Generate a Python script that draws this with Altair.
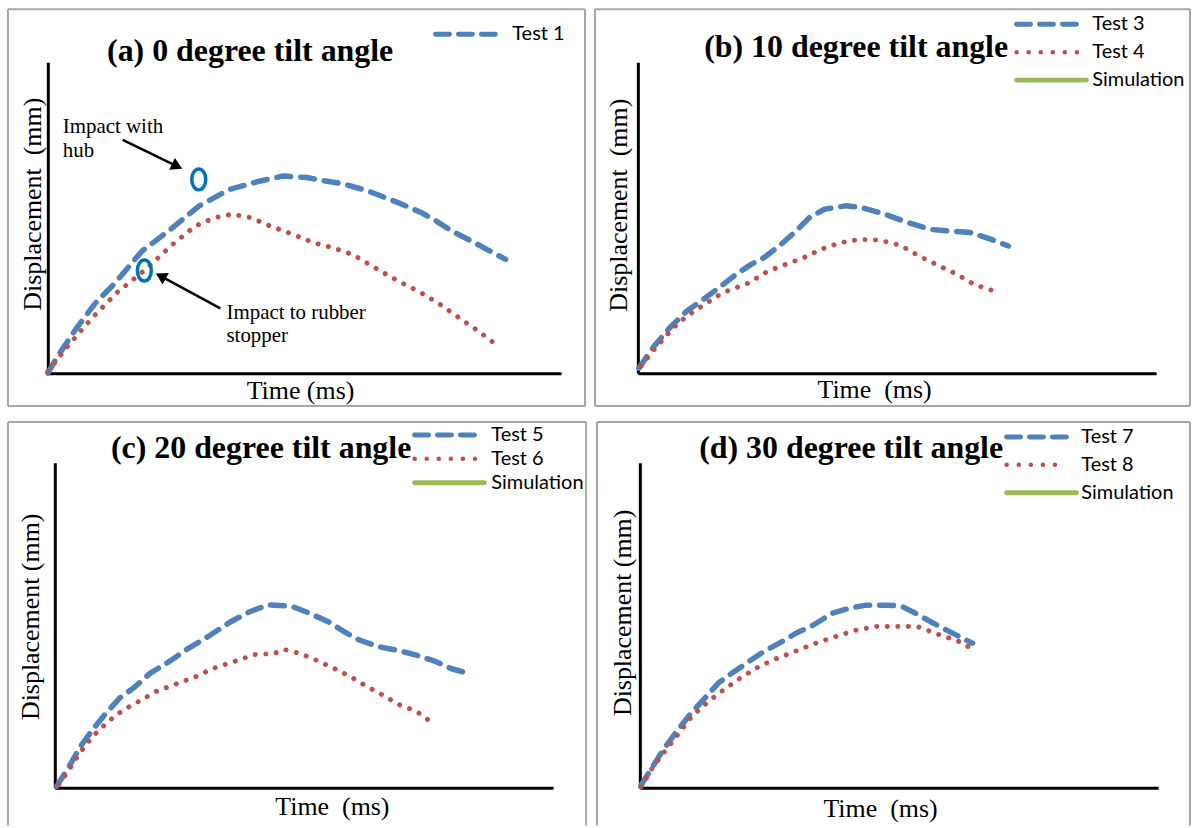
import altair as alt
import pandas as pd

# ---------------- data (values in % of axis length / axis height) ----------------
# (a) 0 degree tilt angle
a_test1_x = [0, 1.9, 5.6, 9.3, 13.1, 18.3, 23.5, 29.5, 35.4, 41.4, 45.9, 50.4, 54.1, 57.8, 62.3, 68.3, 72.8, 75.7, 78.7, 82.5, 86.2, 89.2]
a_test1_y = [0, 5.4, 14.5, 22.6, 29.0, 39.2, 45.7, 53.8, 59.1, 61.8, 63.4, 62.9, 61.8, 60.8, 58.6, 54.8, 51.6, 48.9, 45.7, 42.5, 39.2, 36.6]
a_test2_x = [0, 4.1, 8.6, 13.4, 19.0, 24.3, 28.7, 32.5, 35.8, 39.6, 43.3, 47.8, 51.9, 55.6, 59.3, 62.7, 66.0, 69.0, 72.8, 76.5, 80.2, 84.0, 86.9]
a_test2_y = [0.5, 9.1, 17.7, 25.8, 33.3, 41.4, 47.3, 50.0, 51.1, 50.0, 47.3, 44.6, 41.9, 40.3, 38.2, 34.9, 31.7, 29.0, 25.8, 22.0, 17.7, 13.4, 9.7]

# (b) 10 degree tilt angle
b_test3_x = [0.2, 3.1, 6.1, 9.4, 12.6, 15.6, 18.9, 21.8, 24.3, 27.3, 30.2, 33.1, 36.0, 40.1, 43.3, 47.7, 52.1, 56.5, 60.5, 64.2, 68.2, 71.5]
b_test3_y = [1.6, 8.6, 14.5, 19.9, 23.7, 27.4, 31.7, 34.9, 37.1, 40.9, 45.2, 50.0, 52.7, 53.8, 53.2, 51.1, 48.4, 46.2, 45.7, 45.2, 43.0, 40.9]
b_test4_x = [0.6, 3.1, 6.8, 9.4, 12.3, 16.3, 21.4, 25.1, 28.4, 32.0, 35.3, 39.0, 42.6, 46.6, 50.7, 54.3, 57.6, 61.3, 64.9, 68.2]
b_test4_y = [2.2, 7.5, 14.5, 18.3, 21.5, 25.8, 29.0, 32.8, 34.9, 37.1, 39.8, 41.9, 43.0, 42.8, 41.1, 37.6, 34.9, 32.0, 28.5, 26.7]

# (c) 20 degree tilt angle
c_test5_x = [0.4, 2.7, 5.4, 7.6, 10.3, 13.0, 16.1, 19.1, 22.9, 26.8, 30.6, 35.2, 39.0, 42.8, 47.4, 50.5, 55.0, 58.1, 61.2, 65.0, 68.8, 72.6, 76.5, 79.5, 81.8]
c_test5_y = [0.5, 6.1, 13.3, 17.9, 23.0, 27.6, 31.1, 35.2, 38.8, 42.9, 46.4, 51.0, 54.1, 56.3, 55.9, 54.1, 51.0, 48.0, 45.4, 43.4, 42.3, 40.8, 38.8, 36.7, 35.7]
c_test6_x = [0.8, 2.9, 5.0, 7.6, 10.7, 13.8, 16.8, 20.3, 24.1, 28.3, 31.7, 35.9, 40.1, 44.0, 45.9, 49.3, 52.4, 55.8, 59.3, 62.7, 65.7, 69.2, 72.6, 76.1]
c_test6_y = [1.0, 5.6, 10.7, 15.8, 20.4, 24.0, 26.5, 29.6, 31.8, 34.2, 36.7, 38.8, 41.0, 41.3, 42.6, 41.3, 39.3, 36.9, 34.2, 31.1, 28.6, 25.5, 23.5, 19.6]

# (d) 30 degree tilt angle
d_test7_x = [0.2, 2.0, 4.6, 7.2, 9.7, 12.6, 15.2, 17.8, 21.1, 24.0, 26.9, 30.2, 33.5, 37.1, 40.8, 43.7, 47.4, 50.3, 53.2, 56.1, 59.1, 62.0, 64.2]
d_test7_y = [0.7, 5.3, 11.9, 17.5, 22.6, 27.7, 32.3, 35.3, 38.9, 42.0, 44.5, 47.6, 50.1, 53.7, 55.4, 56.2, 56.2, 56.0, 53.7, 51.1, 48.6, 46.2, 44.5]
d_test8_x = [0.2, 2.3, 4.8, 7.4, 10.1, 13.2, 16.2, 19.4, 23.1, 26.3, 29.7, 33.1, 37.1, 41.5, 45.3, 49.0, 53.6, 57.6, 61.6, 63.5]
d_test8_y = [0.2, 5.8, 11.2, 16.5, 22.1, 26.5, 30.2, 33.8, 37.4, 39.7, 41.8, 44.0, 46.2, 48.4, 49.6, 49.6, 49.6, 47.2, 45.0, 43.3]

# annotations in panel (a)
ring_x = [29.4, 18.8]
ring_y = [62.3, 33.0]
arrow_x = [14.6, 33.6]
arrow_y = [75.0, 20.8]
arrow_x2 = [25.2, 22.0]
arrow_y2 = [66.5, 31.2]
arrow_angle = [115.8, 298.3]
note_text = ["Impact with", "hub", "Impact to rubber", "stopper"]
note_x = [2.9, 2.9, 34.8, 34.8]
note_y = [77.2, 69.6, 17.3, 9.9]

# ---------------- styles ----------------
SERIF = "Liberation Serif"
SANS = "Lato"
BLUE = "#4F81BD"
RED = "#C0504D"
GREEN = "#9BBB59"
RING = "#0070C0"
BORDER = "#A6A6A6"

STYLE = {
    "dash": dict(color=BLUE, strokeWidth=5.5, strokeDash=[14, 10]),
    "dot": dict(color=RED, strokeWidth=5, strokeDash=[0.1, 10.5]),
    "solid": dict(color=GREEN, strokeWidth=5),
}
LEG_STYLE = {
    "dash": dict(color=BLUE, strokeWidth=5, strokeDash=[14, 9]),
    "dot": dict(color=RED, strokeWidth=4.5, strokeDash=[0.1, 12]),
    "solid": dict(color=GREEN, strokeWidth=5),
}

one = pd.DataFrame({"k": [0]})
ELLIPSE = ("M0,-1 C0.368,-1 0.667,-0.552 0.667,0 C0.667,0.552 0.368,1 0,1 "
           "C-0.368,1 -0.667,0.552 -0.667,0 C-0.667,-0.552 -0.368,-1 0,-1 Z")


def rule(x0, x1, y0, y1):
    enc = dict(x=alt.value(x0), y=alt.value(y0))
    if x1 != x0:
        enc["x2"] = alt.value(x1)
    if y1 != y0:
        enc["y2"] = alt.value(y1)
    return alt.Chart(one).mark_rule(color=BORDER, strokeWidth=2).encode(**enc)


def make_panel(cfg):
    w, h = cfg["w"], cfg["h"]
    s = cfg.get("shift", 0)  # inward shift of the axes inside the cell
    xdom = alt.Scale(domain=[0, 100], nice=False, zero=False, range=[s, w])
    ydom = alt.Scale(domain=[0, 100], nice=False, zero=False)
    xaxis = dict(
        title=cfg["xtitle"], labels=False, ticks=False, grid=False,
        domainColor="black", domainWidth=3,
        titleFont=SERIF, titleFontSize=26, titleFontWeight="normal", titleColor="black",
        titleX=cfg["xt_pos"][0], titleY=cfg["xt_pos"][1],
        titleAlign="center", titleBaseline="alphabetic",
    )
    yaxis = dict(
        title=cfg["ytitle"], labels=False, ticks=False, grid=False,
        domainColor="black", domainWidth=3,
        titleFont=SERIF, titleFontSize=26, titleFontWeight="normal", titleColor="black",
        titleX=cfg["yt_pos"][0], titleY=cfg["yt_pos"][1], titleAngle=270,
        titleAlign="center", titleBaseline="alphabetic",
    )
    if s:
        yaxis["offset"] = -s
    xenc = alt.X("x:Q", scale=xdom, axis=alt.Axis(**xaxis))
    yenc = alt.Y("y:Q", scale=ydom, axis=alt.Axis(**yaxis))

    bx0, bx1, by0, by1, closed = cfg["border"]
    layers = [rule(bx0, bx1, by0, by0), rule(bx0, bx0, by0, by1), rule(bx1, bx1, by0, by1)]
    if closed:
        layers.append(rule(bx0, bx1, by1, by1))
    for xs, ys, kind in cfg["series"]:
        df = pd.DataFrame({"x": xs, "y": ys})
        layers.append(
            alt.Chart(df).mark_line(strokeCap="round", strokeJoin="round", **STYLE[kind]).encode(
                x=xenc, y=yenc
            )
        )
    if cfg.get("notes"):
        rings = pd.DataFrame({"x": ring_x, "y": ring_y})
        arrows = pd.DataFrame({"x": arrow_x, "y": arrow_y, "x2": arrow_x2, "y2": arrow_y2,
                               "ang": arrow_angle})
        notes = pd.DataFrame({"x": note_x, "y": note_y, "t": note_text})
        layers += [
            alt.Chart(arrows).mark_rule(color="black", strokeWidth=2.5).encode(
                x=xenc, y=yenc, x2="x2:Q", y2="y2:Q"
            ),
            alt.Chart(arrows).mark_point(shape="triangle-up", filled=True, color="black",
                                         opacity=1, size=170).encode(
                x=alt.X("x2:Q", scale=xdom),
                y=alt.Y("y2:Q", scale=ydom),
                angle=alt.Angle("ang:Q", scale=None),
            ),
            alt.Chart(rings).mark_point(shape=ELLIPSE, filled=False, color=RING, opacity=1,
                                        strokeWidth=3.5, size=441).encode(x=xenc, y=yenc),
            alt.Chart(notes).mark_text(font=SERIF, fontSize=21, align="left",
                                       baseline="alphabetic", color="black").encode(
                x=xenc, y=yenc, text="t:N"
            ),
        ]
    tt, tx, ty = cfg["title"]
    layers.append(
        alt.Chart(one).mark_text(text=tt, font=SERIF, fontSize=32, fontWeight="bold",
                                 align="center", baseline="alphabetic", color="black").encode(
            x=alt.value(tx), y=alt.value(ty)
        )
    )
    lx0, lx1, lsim, ltx = cfg["leg_x"]
    for label, kind, ly in cfg["legend"]:
        x1 = lsim if kind == "solid" else lx1
        layers.append(
            alt.Chart(one).mark_rule(strokeCap="round", **LEG_STYLE[kind]).encode(
                x=alt.value(lx0), x2=alt.value(x1), y=alt.value(ly)
            )
        )
        layers.append(
            alt.Chart(one).mark_text(text=label, font=SANS, fontSize=20, align="left",
                                     baseline="middle", color="black").encode(
                x=alt.value(ltx), y=alt.value(ly)
            )
        )
    return alt.layer(*layers).properties(width=w, height=h)


panel_a = make_panel(dict(
    w=515, h=312, border=(-40, 539, -53, 345, True),
    title=("(a) 0 degree tilt angle", 203, -1),
    xtitle="Time (ms)", xt_pos=(253, 25),
    ytitle="Displacement\u00a0 (mm)", yt_pos=(-7, 142),
    series=[(a_test1_x, a_test1_y, "dash"), (a_test2_x, a_test2_y, "dot")],
    notes=True,
    leg_x=(389, 450, 450, 466),
    legend=[("Test 1", "dash", -28)],
))
panel_b = make_panel(dict(
    w=520, h=312, border=(-43, 554, -53, 345, True),
    title=("(b) 10 degree tilt angle", 219, -5),
    xtitle="Time\u00a0 (ms)", xt_pos=(237, 24),
    ytitle="Displacement\u00a0 (mm)", yt_pos=(-11, 143),
    series=[(b_test3_x, b_test3_y, "dash"), (b_test4_x, b_test4_y, "dot")],
    leg_x=(380, 441, 450, 456),
    legend=[("Test 3", "dash", -38), ("Test 4", "dot", -10), ("Simulation", "solid", 18)],
))
# panel (c): its cell shares the left origin of panel (a); axes are shifted 7 px inward
panel_c = make_panel(dict(
    w=507, h=326, shift=7, border=(-40, 540, -41, 364, False),
    title=("(c) 20 degree tilt angle", 214, -5),
    xtitle="Time\u00a0 (ms)", xt_pos=(285, 27),
    ytitle="Displacement (mm)", yt_pos=(-16, 154),
    series=[(c_test5_x, c_test5_y, "dash"), (c_test6_x, c_test6_y, "dot")],
    leg_x=(368, 429, 438, 445),
    legend=[("Test 5", "dash", -28), ("Test 6", "dot", -4), ("Simulation", "solid", 20)],
))
panel_d = make_panel(dict(
    w=520, h=326, border=(-43, 552, -41, 364, False),
    title=("(d) 30 degree tilt angle", 212, -5),
    xtitle="Time\u00a0 (ms)", xt_pos=(241, 29),
    ytitle="Displacement (mm)", yt_pos=(-9, 150),
    series=[(d_test7_x, d_test7_y, "dash"), (d_test8_x, d_test8_y, "dot")],
    leg_x=(368, 428, 438, 443),
    legend=[("Test 7", "dash", -26), ("Test 8", "dot", 2), ("Simulation", "solid", 30)],
))

row1 = alt.hconcat(panel_a, panel_b, spacing=6)
row2 = alt.hconcat(panel_c, panel_d, spacing=7)
chart = (
    alt.vconcat(row1, row2, spacing=12)
    .properties(padding={"left": 6, "top": 6, "right": 0, "bottom": 0}, background="white")
    .configure_view(stroke="transparent")
)

chart.save("out.html", embed_options={"renderer": "svg", "actions": False})
